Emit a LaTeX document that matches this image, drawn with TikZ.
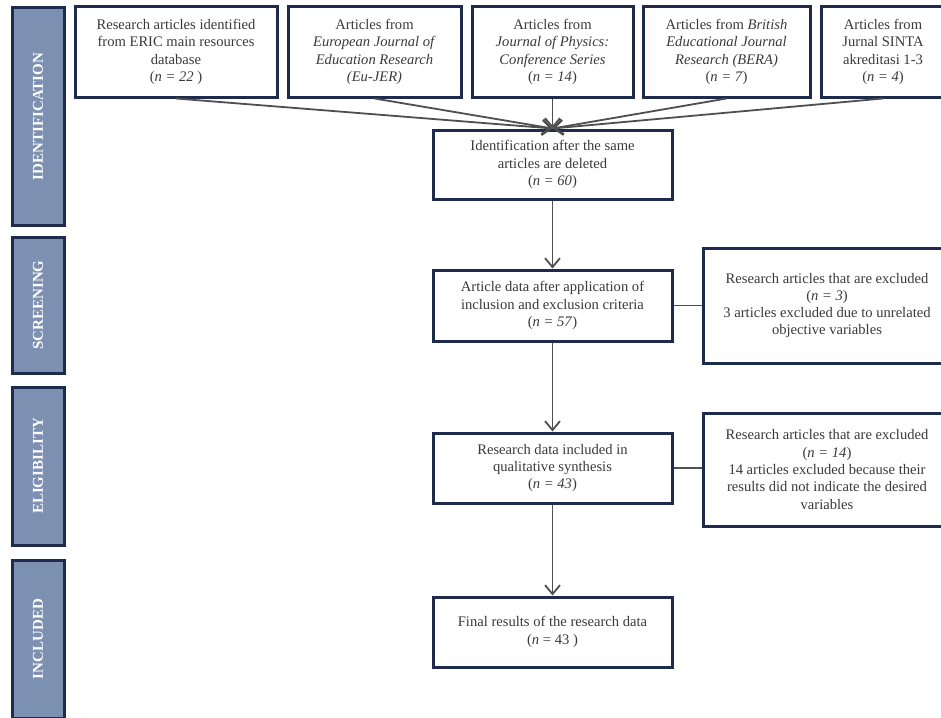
\documentclass[tikz,border=0pt]{standalone}
\usepackage{fontspec}
\setmainfont{Liberation Serif}
\usetikzlibrary{arrows.meta}
\definecolor{navy}{HTML}{1F2B4C}
\definecolor{barfill}{HTML}{7C90B2}
\definecolor{txt}{HTML}{3A3A3A}
\definecolor{conn}{HTML}{4F4F4F}
\tikzset{
  box/.style={draw=navy, line width=3pt, fill=white, align=center, text=txt,
    inner sep=1pt, font=\fontsize{14.6}{17.3}\selectfont},
  bar/.style={draw=navy, line width=3pt, fill=barfill, minimum width=52pt},
  bartext/.style={text=white, rotate=90, font=\fontsize{15}{18}\selectfont\bfseries},
  conn/.style={draw=conn, line width=1.8pt},
  arr/.style={conn, -{Straight Barb[length=9pt,width=15pt,line width=1.8pt]}}
}
\begin{document}
\begin{tikzpicture}[x=1pt,y=-1pt]
\clip (0,0) rectangle (941,717);
\fill[white] (0,0) rectangle (941,717);
% side bars
\node[bar, minimum height=217pt] (bid) at (38,116.5) {};
\node[bartext] (tid) at (bid.center) {IDENTIFICATION};
\node[bar, minimum height=136pt] (bsc) at (38,305) {};
\node[bartext] (tsc) at (bsc.center) {SCREENING};
\node[bar, minimum height=158pt] (bel) at (38,466) {};
\node[bartext] (tel) at (bel.center) {ELIGIBILITY};
\node[bar, minimum height=158pt] (bin) at (38,639) {};
\node[bartext] (tin) at (bin.center) {INCLUDED};
% top boxes
\node[box, minimum width=202pt, minimum height=90pt] (s1) at (176,52)
  {Research articles identified\\from ERIC main resources\\database\\(\textit{n = 22} )};
\node[box, minimum width=173pt, minimum height=90pt] (s2) at (374.5,52)
  {Articles from\\\textit{European Journal of}\\\textit{Education Research}\\\textit{(Eu-JER)}};
\node[box, minimum width=161pt, minimum height=90pt] (s3) at (552.5,52)
  {Articles from\\\textit{Journal of Physics:}\\\textit{Conference Series}\\(\textit{n = 14})};
\node[box, minimum width=167pt, minimum height=90pt] (s4) at (726.5,52)
  {Articles from \textit{British}\\\textit{Educational Journal}\\\textit{Research (BERA)}\\(\textit{n = 7})};
\node[box, minimum width=124pt, minimum height=90pt] (s5) at (883,52)
  {Articles from\\Jurnal SINTA\\akreditasi 1-3\\(\textit{n = 4})};
% main column
\node[box, minimum width=239pt, minimum height=69pt] (ident) at (552.5,164.5)
  {Identification after the same\\articles are deleted\\(\textit{n = 60})};
\node[box, minimum width=239pt, minimum height=71pt] (screen) at (552.5,305.5)
  {Article data after application of\\inclusion and exclusion criteria\\(\textit{n = 57})};
\node[box, minimum width=248pt, minimum height=115pt] (ex1) at (827,305.5)
  {Research articles that are excluded\\(\textit{n = 3})\\3 articles excluded due to unrelated\\objective variables};
\node[box, minimum width=239pt, minimum height=70pt] (elig) at (552.5,468)
  {Research data included in\\qualitative synthesis\\(\textit{n = 43})};
\node[box, minimum width=248pt, minimum height=113pt] (ex2) at (827,469.5)
  {Research articles that are excluded\\(\textit{n = 14})\\14 articles excluded because their\\results did not indicate the desired\\variables};
\node[box, minimum width=239pt, minimum height=70pt] (incl) at (552.5,632)
  {Final results of the research data\\(\textit{n} = 43 )};
% connectors
\foreach \s in {s1,s2,s3,s4,s5}{
  \draw[arr] (\s.south) -- (ident.north);
}
\draw[arr] (ident.south) -- (screen.north);
\draw[arr] (screen.south) -- (elig.north);
\draw[arr] (elig.south) -- (incl.north);
\draw[conn] (screen.east) -- (ex1.west);
\draw[conn] (elig.east) -- (elig.east -| ex2.west);
\end{tikzpicture}
\end{document}
